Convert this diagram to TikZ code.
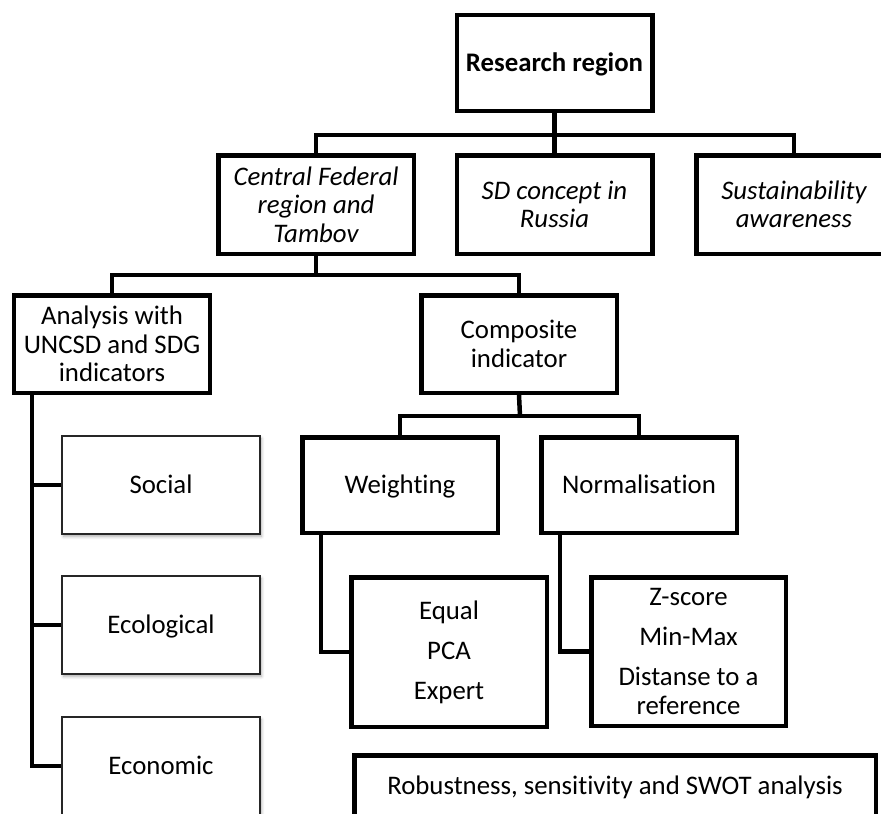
\documentclass[tikz,border=0pt]{standalone}
\usepackage{fontspec}
\setmainfont{Carlito}[Ligatures=NoCommon]
\usetikzlibrary{shadows.blur}
\tikzset{
  heavybox/.style={draw=black, line width=4.5bp, fill=white, inner sep=0pt, align=center,
    minimum width=195.5bp, minimum height=95.5bp},
  lightbox/.style={draw=black!85, line width=2.2bp, fill=white, inner sep=0pt, align=center,
    minimum width=197.8bp, minimum height=97.8bp,
    blur shadow={shadow xshift=1.5bp, shadow yshift=-2.5bp, shadow blur radius=3bp, shadow opacity=35}},
  oneline/.style={text height=23bp, text depth=6bp},
  link/.style={draw=black, line width=4.5bp},
}
\begin{document}
\begin{tikzpicture}[x=1bp, y=-1bp, font=\fontsize{26.8bp}{28.5bp}\selectfont]
\useasboundingbox (0,0) rectangle (881,814);
\clip (0,0) rectangle (881,814);

% top level
\node[heavybox, oneline] (rr) at (554.5,63) {\textbf{Research region}};

% second level
\node[heavybox, minimum height=98.5bp] (cf) at (316,204.5) {\itshape Central Federal\\ \itshape region and\\ \itshape Tambov};
\node[heavybox, minimum height=98.5bp] (sd) at (554.5,204.5) {\itshape SD concept in\\ \itshape Russia};
\node[heavybox, minimum height=98.5bp] (sa) at (794,204.5) {\itshape Sustainability\\ \itshape awareness};

% third level
\node[heavybox, minimum height=97.5bp] (an) at (112,344) {Analysis with\\ UNCSD and SDG\\ indicators};
\node[heavybox, minimum height=97.5bp] (ci) at (519,344) {Composite\\ indicator};

% dimensions of the indicator analysis
\node[lightbox, oneline] (so) at (161,485) {Social};
\node[lightbox, oneline] (eco) at (161,625) {Ecological};
\node[lightbox, oneline] (ecn) at (161,766) {Economic};

% composite indicator steps
\node[heavybox, oneline] (we) at (400,485) {Weighting};
\node[heavybox, oneline] (no) at (639,485) {Normalisation};
\node[heavybox, minimum height=149.5bp] (eq) at (449,652) {Equal\\[11.5bp] PCA\\[11.5bp] Expert};
\node[heavybox, minimum width=194.5bp, minimum height=148.5bp] (zs) at (688.5,651.5) {Z-score\\[11.5bp] Min-Max\\[11.5bp] Distanse to a\\ reference};

\node[heavybox, oneline, minimum width=521.5bp, minimum height=60.5bp] (ro) at (615,785.5) {Robustness, sensitivity and SWOT analysis};

% connectors
\coordinate (b1) at (554.5,135);
\draw[link] (rr.south) -- (sd.north);
\draw[link] (cf.north) -- (cf.north |- b1) -- (sa.north |- b1) -- (sa.north);

\coordinate (b2) at (316,275);
\draw[link] (cf.south) -- (b2);
\draw[link] (an.north) -- (an.north |- b2) -- (ci.north |- b2) -- (ci.north);

\coordinate (t1) at (32,0);
\draw[link] (an.south -| t1) -- (ecn.west -| t1) -- (ecn.west);
\draw[link] (so.west -| t1) -- (so.west);
\draw[link] (eco.west -| t1) -- (eco.west);

\coordinate (b3) at (520,416);
\draw[link] (ci.south) -- (b3);
\draw[link] (we.north) -- (we.north |- b3) -- (no.north |- b3) -- (no.north);

\coordinate (t2) at (321,0);
\draw[link] (we.south -| t2) -- (eq.west -| t2) -- (eq.west);
\coordinate (t3) at (560,0);
\draw[link] (no.south -| t3) -- (zs.west -| t3) -- (zs.west);
\end{tikzpicture}
\end{document}
